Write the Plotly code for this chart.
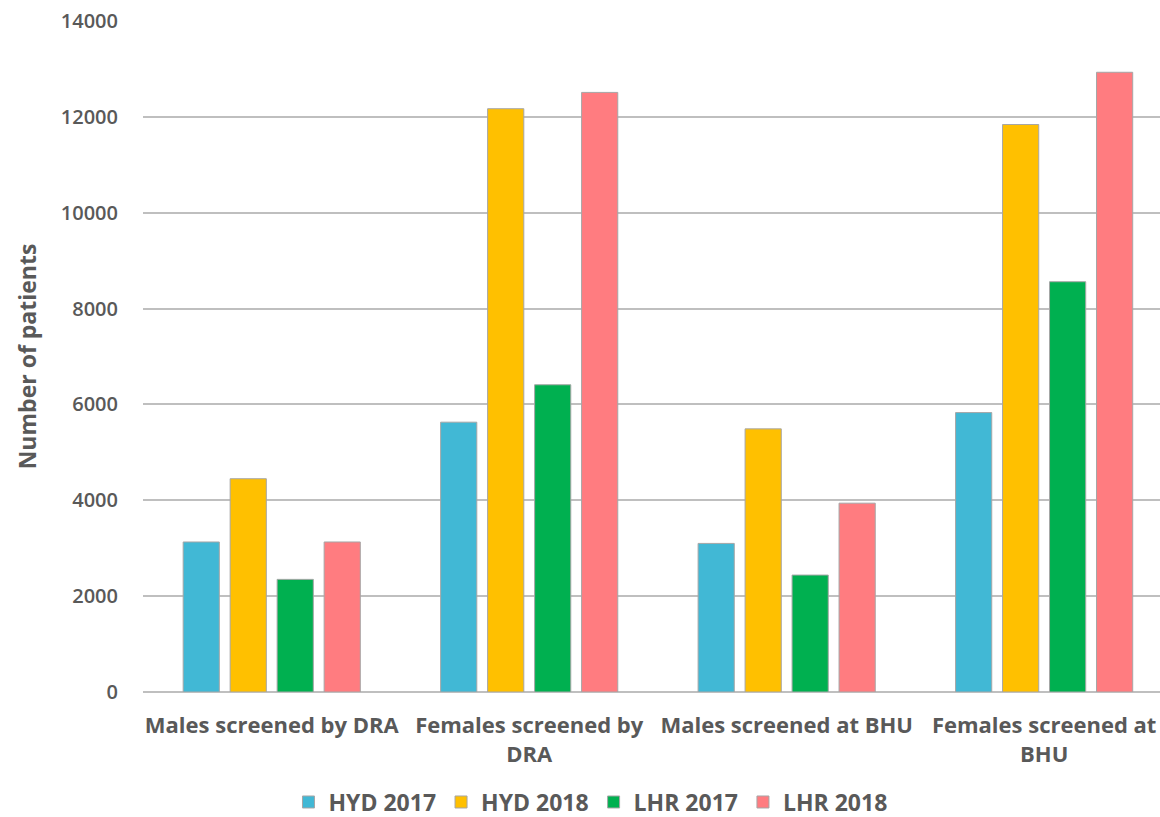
import plotly.graph_objects as go

categories = [
    "Males screened by DRA",
    "Females screened by<br>DRA",
    "Males screened at BHU",
    "Females screened at<br>BHU",
]
series_names = ["HYD 2017", "HYD 2018", "LHR 2017", "LHR 2018"]
hyd_2017 = [3130, 5630, 3100, 5830]
hyd_2018 = [4450, 12170, 5490, 11840]
lhr_2017 = [2350, 6410, 2440, 8560]
lhr_2018 = [3130, 12510, 3940, 12930]
colors = ["#41B8D5", "#FFC000", "#00B050", "#FF7C80"]

y_ticks = [0, 2000, 4000, 6000, 8000, 10000, 12000, 14000]

FONT = "Open Sans, sans-serif"
GREY = "#595959"

fig = go.Figure()
for name, vals, col in zip(series_names, [hyd_2017, hyd_2018, lhr_2017, lhr_2018], colors):
    fig.add_trace(go.Bar(
        name=name, x=categories, y=vals,
        marker=dict(color=col, line=dict(color="#A6A6A6", width=1)),
    ))

fig.update_layout(
    width=1160, height=817,
    margin=dict(l=143, r=0, t=21, b=125, autoexpand=False),
    paper_bgcolor="white", plot_bgcolor="white",
    barmode="group", bargap=0.27, bargroupgap=0.23,
    font=dict(family=FONT, color=GREY),
    showlegend=True,
    legend=dict(
        orientation="h", x=0.44, xanchor="center", y=-0.164, yanchor="middle",
        font=dict(size=23, family=FONT, color=GREY, weight="bold"),
        itemwidth=30, traceorder="normal",
    ),
    xaxis=dict(
        showgrid=False, showline=False, ticks="", ticklabelstandoff=18,
        range=[-0.5, 3.45],
        tickfont=dict(size=22, family=FONT, color=GREY, weight="bold"),
    ),
    yaxis=dict(
        range=[0, 14000], tickvals=y_ticks, ticktext=[str(v) for v in y_ticks],
        showgrid=True, gridcolor="#BFBFBF", gridwidth=1.5,
        zeroline=True, zerolinecolor="#BFBFBF", zerolinewidth=1.5,
        showline=False, ticks="", ticklabelstandoff=24,
        tickfont=dict(size=20, family=FONT, color=GREY, weight=600),
        title=dict(text="Number of patients", standoff=17,
                   font=dict(size=23, family=FONT, color=GREY, weight="bold")),
    ),
)

fig.write_html("out.html")
